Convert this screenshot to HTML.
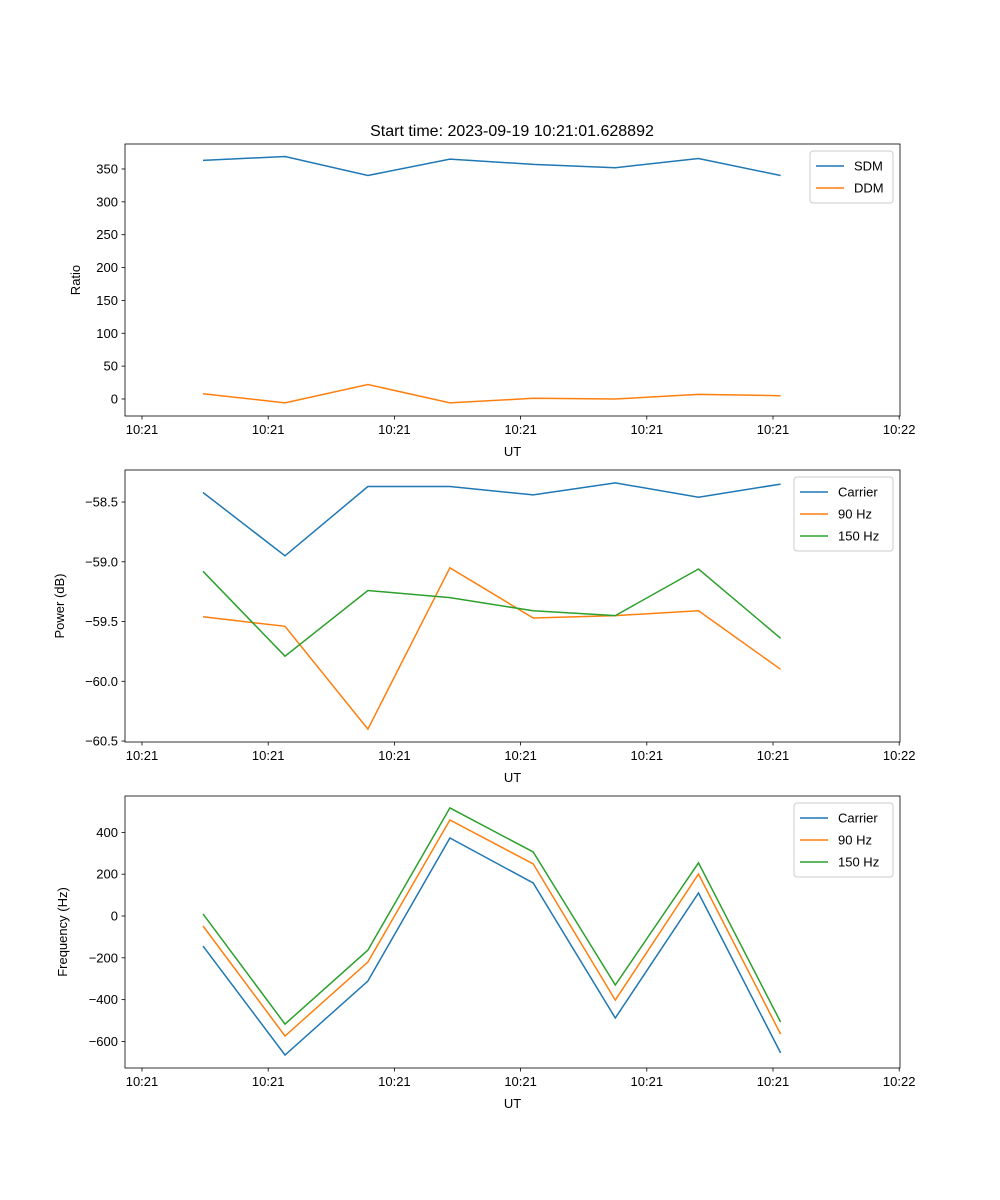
<!DOCTYPE html>
<html><head><meta charset="utf-8"><style>
body{margin:0;background:#fff;font-family:"Liberation Sans","DejaVu Sans",sans-serif}
svg{display:block}
</style></head><body>
<svg id="fig" width="1000" height="1200" xmlns="http://www.w3.org/2000/svg"></svg>
<script>
const xTickLabels=["10:21","10:21","10:21","10:21","10:21","10:21","10:22"];
const xVals=[0.483,1.133,1.79,2.44,3.10,3.75,4.41,5.06];
const sdm=[363,369,340,365,357,352,366,340];
const ddm=[8,-6,22,-6,1,0,7,5];
const powCarrier=[-58.42,-58.95,-58.37,-58.37,-58.44,-58.34,-58.46,-58.35];
const pow90=[-59.46,-59.54,-60.40,-59.05,-59.47,-59.45,-59.41,-59.90];
const pow150=[-59.08,-59.79,-59.24,-59.30,-59.41,-59.45,-59.06,-59.64];
const frqCarrier=[-144,-665,-311,373,158,-488,110,-655];
const frq90=[-48,-574,-220,459,249,-402,201,-565];
const frq150=[10,-517,-163,517,306,-330,254,-507];
const ratioTicks=[0,50,100,150,200,250,300,350];
const powTicks=[-58.5,-59.0,-59.5,-60.0,-60.5];
const frqTicks=[-600,-400,-200,0,200,400];

const NS="http://www.w3.org/2000/svg";
const svg=document.getElementById('fig');
function mk(tag,attrs,parent){const e=document.createElementNS(NS,tag);for(const k in attrs)e.setAttribute(k,attrs[k]);(parent||svg).appendChild(e);return e;}
const L=125,R=900;
function xs(v){return 142+v*126.2;}
const colors=["#1f77b4","#ff7f0e","#2ca02c"];

function panel(name,top,bot,ymin,ymax,yTicks,fmt,ylabel,series,names,legendX,legendW){
  const g=mk('g',{});
  
  
  const ys=v=>bot-(v-ymin)/(ymax-ymin)*(bot-top);
  series.forEach((s,i)=>{
    const pts=s.map((v,j)=>xs(xVals[j]).toFixed(1)+','+ys(v).toFixed(1)).join(' ');
    const pl=mk('polyline',{points:pts,fill:'none',stroke:colors[i],'stroke-width':1.5},g);
    
    
  });
  const fr=mk('rect',{x:L,y:top,width:R-L,height:bot-top,fill:'none',stroke:'#000','stroke-width':0.8},g);
  
  
  xTickLabels.forEach((t,i)=>{
    const x=xs(i);
    mk('line',{x1:x,x2:x,y1:bot,y2:bot+3.5,stroke:'#000','stroke-width':0.8},g);
    const tx=mk('text',{x:x,y:bot+18,'font-size':13,'text-anchor':'middle'},g);tx.textContent=t;
    
    
  });
  yTicks.forEach(v=>{
    const y=ys(v);
    mk('line',{x1:L,x2:L-3.5,y1:y,y2:y,stroke:'#000','stroke-width':0.8},g);
    const tx=mk('text',{x:L-7,y:y+4.5,'font-size':13,'text-anchor':'end'},g);tx.textContent=fmt(v);
    
    
  });
  const xl=mk('text',{x:(L+R)/2,y:bot+40,'font-size':13,'text-anchor':'middle'},g);xl.textContent='UT';
  
  
  const yx=name==='ratio'?80:name==='power'?64:67;
  const yl=mk('text',{x:yx,y:(top+bot)/2,'font-size':13,'text-anchor':'middle',transform:`rotate(-90 ${yx} ${(top+bot)/2})`},g);yl.textContent=ylabel;
  
  
  const lg=mk('g',{},g);
  
  
  mk('rect',{x:legendX,y:top+7,width:legendW,height:8+names.length*22,rx:3,fill:'#fff',stroke:'#ccc','stroke-width':1},lg);
  names.forEach((n,i)=>{
    const y=top+22+i*22;
    mk('line',{x1:legendX+6,x2:legendX+34,y1:y,y2:y,stroke:colors[i],'stroke-width':1.5},lg);
    const t=mk('text',{x:legendX+44,y:y+4.5,'font-size':13},lg);t.textContent=n;
    
    
  });
}
panel('ratio',144,416,-25.9,388,ratioTicks,v=>String(v),'Ratio',[sdm,ddm],['SDM','DDM'],810,83);
panel('power',470,742,-60.508,-58.232,powTicks,v=>'\u2212'+Math.abs(v).toFixed(1),'Power (dB)',[powCarrier,pow90,pow150],['Carrier','90 Hz','150 Hz'],794,99);
panel('frequency',796,1068,-727,574,frqTicks,v=>(v<0?'\u2212':'')+Math.abs(v),'Frequency (Hz)',[frqCarrier,frq90,frq150],['Carrier','90 Hz','150 Hz'],794,99);
const title=mk('text',{x:512,y:136,'font-size':16,'text-anchor':'middle'});
title.textContent='Start time: 2023-09-19 10:21:01.628892';


</script>
</body></html>
